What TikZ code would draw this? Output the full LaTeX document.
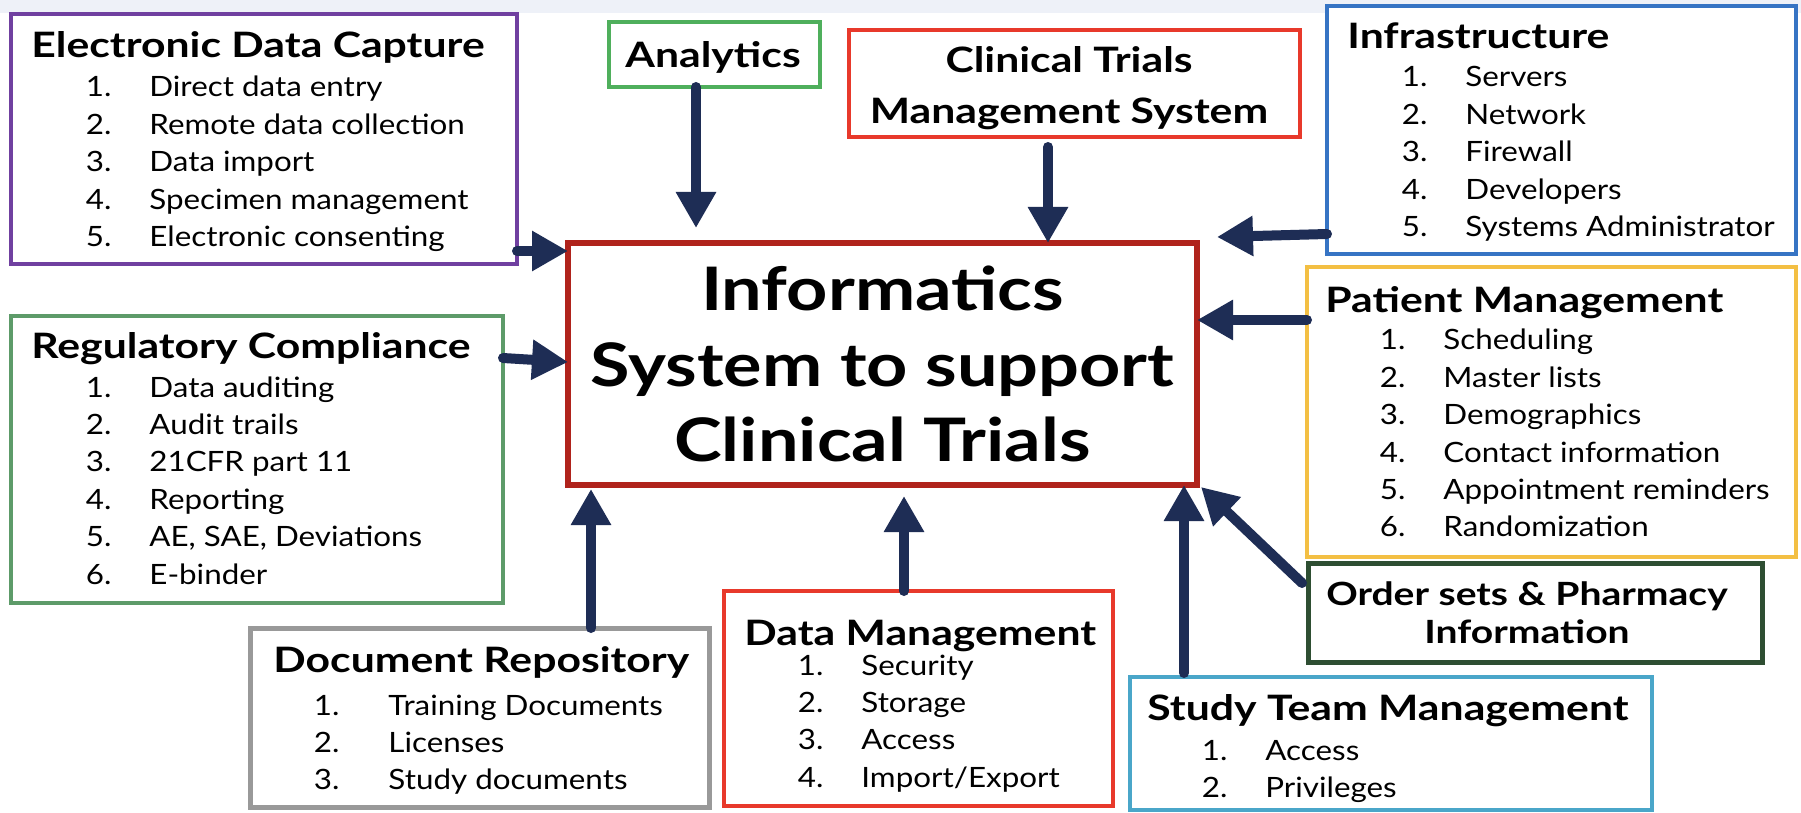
\documentclass[tikz,border=0pt]{standalone}
\usepackage{fontspec}
\setmainfont{Lato}
\newfontfamily\ttlfont{Lato}[FakeStretch=1.22]
\newfontfamily\itmfont{Lato}[FakeStretch=1.12]
\newfontfamily\bigfont{Lato}[FakeStretch=1.2]
\usetikzlibrary{arrows.meta,fit}
\definecolor{cPurple}{HTML}{7040A0}
\definecolor{cGreenA}{HTML}{4FAF5C}
\definecolor{cRed}{HTML}{E8392B}
\definecolor{cMain}{HTML}{B0231C}
\definecolor{cBlue}{HTML}{3674C4}
\definecolor{cYellow}{HTML}{F3BF43}
\definecolor{cDkGreen}{HTML}{2E4E32}
\definecolor{cLtBlue}{HTML}{4AA6C9}
\definecolor{cGray}{HTML}{999999}
\definecolor{cGreenB}{HTML}{5D9B69}
\definecolor{cNavy}{HTML}{1E2D55}
\definecolor{cBand}{HTML}{EEF1F8}
\newlength{\numgap}\setlength{\numgap}{19pt}
\newcommand{\nm}[1]{\llap{#1\hspace{\numgap}}}
\tikzset{
  box/.style={draw=#1, line width=2.25pt, fill=white, inner sep=0pt, outer sep=0pt, rectangle},
  ttl/.style={font=\ttlfont\bfseries\fontsize{17.5}{22}\selectfont, inner sep=0pt, anchor=base west},
  itm/.style={font=\itmfont\fontsize{14}{18.7}\selectfont, inner sep=0pt, anchor=base west},
  arr/.style={draw=cNavy, line width=5pt, line cap=round, -{Triangle[width=19pt,length=18pt]}}
}
\begin{document}
\begin{tikzpicture}[x=0.5pt,y=-0.5pt]
\useasboundingbox (0,0) rectangle (1801,813);
\fill[white] (0,0) rectangle (1801,813);
\fill[cBand] (0,0) rectangle (1801,13);

% boxes
\node[box=cPurple, fit={(11,14) (517,264)}] (edc) {};
\node[box=cGreenA, fit={(609,22) (820,87)}] (ana) {};
\node[box=cRed, fit={(849,30) (1300,137)}] (ctms) {};
\node[box=cMain, line width=3pt, fit={(568,243) (1197,485)}] (main) {};
\node[box=cBlue, fit={(1327,6) (1796,254)}] (infra) {};
\node[box=cYellow, fit={(1307,267) (1796,557)}] (pm) {};
\node[box=cDkGreen, line width=2.5pt, fit={(1308,563) (1762,662)}] (order) {};
\node[box=cLtBlue, fit={(1130,677) (1652,810)}] (stm) {};
\node[box=cRed, fit={(724,591) (1113,806)}] (dm) {};
\node[box=cGray, line width=2.5pt, fit={(250,628) (709,807)}] (doc) {};
\node[box=cGreenB, fit={(11,316) (503,603)}] (rc) {};

% texts
\node[ttl] (edcT) at (31,58) {Electronic Data Capture};
\node[itm] (edcL) at (149,97) {\begin{tabular}[t]{@{}l@{}}
\nm{1.}Direct data entry\\
\nm{2.}Remote data collection\\
\nm{3.}Data import\\
\nm{4.}Specimen management\\
\nm{5.}Electronic consenting
\end{tabular}};

\node[ttl] (rcT) at (31,358) {Regulatory Compliance};
\node[itm] (rcL) at (149,397) {\begin{tabular}[t]{@{}l@{}}
\nm{1.}Data auditing\\
\nm{2.}Audit trails\\
\nm{3.}21CFR part 11\\
\nm{4.}Reporting\\
\nm{5.}AE, SAE, Deviations\\
\nm{6.}E-binder
\end{tabular}};

\node[ttl, anchor=base] (anaT) at (713,68) {Analytics};

\node[ttl, anchor=base] (ctmsT) at (1069,73) {\begin{tabular}[t]{@{}c@{}}
Clinical Trials\\[3.5pt]
Management System
\end{tabular}};

\node[ttl] (infraT) at (1347,49) {Infrastructure};
\node[itm] (infraL) at (1465,87) {\begin{tabular}[t]{@{}l@{}}
\nm{1.}Servers\\
\nm{2.}Network\\
\nm{3.}Firewall\\
\nm{4.}Developers\\
\nm{5.}Systems Administrator
\end{tabular}};

\node[ttl] (pmT) at (1325,312) {Patient Management};
\node[itm] (pmL) at (1443,350) {\begin{tabular}[t]{@{}l@{}}
\nm{1.}Scheduling\\
\nm{2.}Master lists\\
\nm{3.}Demographics\\
\nm{4.}Contact information\\
\nm{5.}Appointment reminders\\
\nm{6.}Randomization
\end{tabular}};

\node[ttl, anchor=base, font=\ttlfont\bfseries\fontsize{16}{19}\selectfont] (orderT) at (1527,605) {\begin{tabular}[t]{@{}c@{}}
Order sets \& Pharmacy\\
Information
\end{tabular}};

\node[ttl] (stmT) at (1147,720) {Study Team Management};
\node[itm] (stmL) at (1265,760) {\begin{tabular}[t]{@{}l@{}}
\nm{1.}Access\\
\nm{2.}Privileges
\end{tabular}};

\node[ttl] (dmT) at (744,645) {Data Management};
\node[itm] (dmL) at (861,675) {\begin{tabular}[t]{@{}l@{}}
\nm{1.}Security\\
\nm{2.}Storage\\
\nm{3.}Access\\
\nm{4.}Import/Export
\end{tabular}};

\node[ttl] (docT) at (273,672) {Document Repository};
\node[itm] (docL) at (388,715) {\setlength{\numgap}{24.5pt}\begin{tabular}[t]{@{}l@{}}
\nm{1.}Training Documents\\
\nm{2.}Licenses\\
\nm{3.}Study documents
\end{tabular}};

\node[inner sep=0pt, anchor=base, font=\bigfont\bfseries\fontsize{30}{38}\selectfont] (mainT) at (882.5,310) {\begin{tabular}[t]{@{}c@{}}
Informatics\\
System to support\\
Clinical Trials
\end{tabular}};

% connectors
\coordinate (infraTip) at (1217,237);
\draw[arr, shorten >=7.5pt] (ana.south -| 696,0) -- (main.north -| 696,0);
\draw[arr, shorten <=5pt] (ctms.south -| 1048,0) -- (main.north -| 1048,0);
\draw[arr] (infra.west |- 0,234) -- (infraTip);
\draw[arr] (edc.east |- 0,251) -- (main.west |- 0,251);
\draw[arr] (rc.east |- 0,358) -- (main.west |- 0,362);
\draw[arr] (pm.west |- 0,320) -- (main.east |- 0,320);
\draw[arr] ([shift={(-6,20)}]order.north west) -- ([shift={(4,2)}]main.south east);
\draw[arr, shorten <=2pt] (stm.north -| 1184,0) -- (main.south -| 1184,0);
\draw[arr, shorten >=5.5pt] (dm.north -| 904,0) -- (main.south -| 904,0);
\draw[arr, shorten >=2pt] (doc.north -| 591,0) -- (main.south -| 591,0);
\end{tikzpicture}
\end{document}
